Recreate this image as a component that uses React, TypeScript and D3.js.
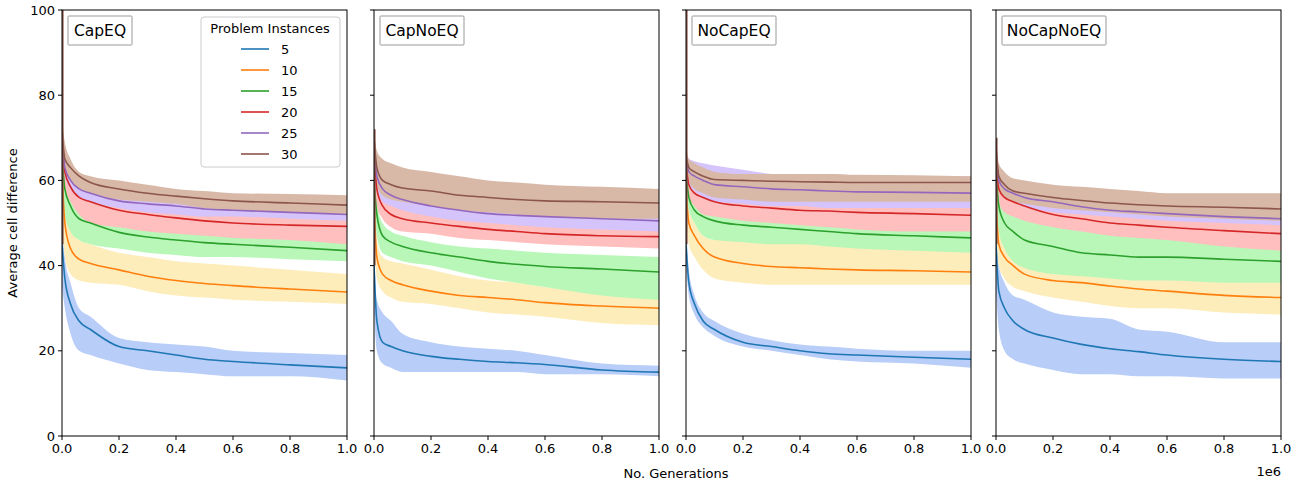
import { scaleLinear, line as d3line, area as d3area, curveMonotoneX } from "d3";

const gens = [0, 0.01, 0.03, 0.06, 0.1, 0.2, 0.3, 0.4, 0.5, 0.6, 0.8, 1.0];
const instances = ["5", "10", "15", "20", "25", "30"];
const panelNames = ["CapEQ", "CapNoEQ", "NoCapEQ", "NoCapNoEQ"];
const xTicks = [0, 0.2, 0.4, 0.6, 0.8, 1.0];
const yTicks = [0, 20, 40, 60, 80, 100];

const lineColors = ["#1f77b4", "#ff7f0e", "#2ca02c", "#d62728", "#9467bd", "#8c564b"];
const bandColors = ["#b8cdf8", "#fdedbb", "#b9f7b9", "#ffbfbf", "#d4c4fb", "#d8b9a8"];

// mean / lower / upper per panel, per instance size
const capEqMean = [
	[45, 37, 31, 27, 25, 21, 20, 19, 18, 17.5, 16.7, 16],
	[62, 50, 44, 41.5, 40.5, 39, 37.5, 36.5, 35.8, 35.3, 34.5, 33.8],
	[66, 58, 54, 51, 50, 47.8, 46.7, 46, 45.4, 45, 44.3, 43.5],
	[68, 62, 58.5, 56, 55, 53, 52, 51.2, 50.5, 50, 49.5, 49.2],
	[70, 63, 60, 58, 57, 55.2, 54.5, 54, 53.3, 53, 52.5, 52],
	[72, 65, 63, 61, 59.5, 58, 57, 56.3, 55.7, 55.2, 54.7, 54.2],
];
const capEqLo = [
	[35, 30, 24, 20, 19, 17, 15.5, 15, 14.5, 14, 14, 13],
	[50, 42, 38, 36.5, 36, 35.5, 34, 33, 32.5, 32, 31.5, 31],
	[58, 52, 48, 46, 45, 44, 43, 42.5, 42, 42, 41.5, 41],
	[62, 58, 55, 52, 50, 49, 48, 47.5, 47, 46.5, 46, 45],
	[65, 61, 58, 56, 55, 53.5, 52.5, 52, 51.5, 51.5, 51, 50.5],
	[67, 62, 60, 58, 57, 55.5, 55, 54.5, 53.5, 53, 52.5, 52],
];
const capEqHi = [
	[50, 42, 36, 30, 28, 23, 22, 21.5, 21, 20, 19.5, 19],
	[66, 55, 49, 46, 45, 43, 42, 41, 40.5, 40, 39, 38],
	[68, 62, 57, 54, 53, 51, 50, 49, 48.5, 48, 47.5, 47],
	[70, 65, 61, 58, 57, 55, 54, 53.5, 53, 52.5, 52, 51.5],
	[72, 67, 63, 60, 59, 57, 56, 55.5, 55, 54.5, 54, 54],
	[75, 69, 65, 62, 61, 60, 59, 58, 57.5, 57, 56.8, 56.5],
];

const capNoEqMean = [
	[40, 27, 22, 21, 20, 18.7, 18, 17.5, 17.2, 16.8, 15.5, 15],
	[55, 42, 38, 36.5, 35.5, 34, 33, 32.5, 32, 31.3, 30.5, 30],
	[60, 52, 47, 45.5, 44.5, 43, 42, 41, 40.3, 39.8, 39.2, 38.5],
	[66, 58, 54, 52, 51, 50, 49.2, 48.5, 48, 47.5, 47, 46.8],
	[68, 61, 58, 56.5, 55.5, 54, 53, 52.2, 51.8, 51.5, 51, 50.5],
	[70, 63, 60, 59, 58.2, 57.5, 56.5, 56, 55.5, 55.2, 55, 54.7],
];
const capNoEqLo = [
	[30, 20, 17, 16, 15, 15, 15, 15, 15, 14.5, 14.5, 14],
	[48, 37, 34, 32.5, 31.5, 31, 30, 29, 28.5, 28, 26.5, 26],
	[55, 47, 43, 42, 41, 40, 38.5, 37, 36, 35, 33, 32],
	[62, 54, 51, 49, 48, 47.5, 46.5, 46, 45.5, 45, 44.5, 44],
	[65, 58, 55, 54, 53, 51.5, 50.5, 50, 49.5, 49, 48.5, 48],
	[66, 59, 56.5, 55.5, 55, 54, 53, 52.5, 52, 51.5, 51, 51],
];
const capNoEqHi = [
	[45, 32, 29, 27, 24, 22, 21, 20.5, 20, 19, 17, 16.5],
	[58, 46, 42, 41, 40.5, 39, 37.5, 36.5, 36, 35, 34, 33],
	[64, 55, 50, 48, 47, 45.5, 44.5, 44, 43.5, 43, 42.5, 42],
	[69, 62, 57, 55, 54, 53, 52, 51.5, 51, 50.5, 50, 49.5],
	[70, 63, 61, 60, 59, 58, 57, 56, 55.5, 55, 54.5, 54],
	[72, 67, 65, 64, 63, 62, 61, 60, 59.5, 59, 58.5, 58],
];

const noCapEqMean = [
	[45, 36, 31, 27, 25, 22, 21, 20, 19.3, 19, 18.5, 18],
	[58, 50, 47, 44, 42, 40.5, 39.8, 39.5, 39.2, 39, 38.8, 38.5],
	[62, 56, 53, 51.5, 50.5, 49.5, 49, 48.5, 48, 47.5, 47, 46.5],
	[64, 59, 57, 56, 55, 54, 53.5, 53, 52.8, 52.5, 52.2, 51.8],
	[65, 62, 61, 60, 59, 58.5, 58, 57.8, 57.5, 57.3, 57.2, 57],
	[66, 63, 62, 61, 60.2, 60, 59.8, 59.7, 59.6, 59.5, 59.5, 59.5],
];
const noCapEqLo = [
	[40, 33, 28.5, 25.5, 23.5, 21, 20, 19, 18, 17.5, 17, 16],
	[52, 45, 42, 39, 37, 36, 35.5, 35.5, 35.5, 35.5, 35.5, 35.5],
	[58, 53, 50, 47, 46, 45.5, 45, 45, 44.5, 44, 43.5, 43],
	[61, 56, 54, 52, 51.5, 50.5, 50, 49.5, 49, 48.5, 48, 48],
	[62, 59, 57.5, 56, 55, 54.5, 54, 54, 53.5, 53.5, 53.5, 53.5],
	[63, 60, 58, 57, 56, 55.5, 55, 55, 55, 55, 55, 55],
];
const noCapEqHi = [
	[50, 39, 33, 29, 27, 24, 22.5, 21.5, 21, 20.5, 20, 20],
	[62, 53, 50, 47, 46, 46, 46, 45.5, 45, 44.5, 44, 43.5],
	[64, 59, 55, 53, 52.5, 52, 51.5, 51, 51, 50.5, 50.5, 50],
	[66, 61, 59, 58, 58, 57.5, 57, 56, 55.5, 55, 55, 55],
	[68, 65, 64.5, 64, 63.5, 62.5, 61.5, 61, 61, 61, 61, 61],
	[68, 65, 64, 63, 62, 61.5, 61.5, 61.5, 61.5, 61.3, 61.2, 61],
];

const noCapNoEqMean = [
	[45, 34, 30, 27, 25, 23, 21.5, 20.5, 19.8, 19, 18, 17.5],
	[55, 45, 42, 40, 38, 36.5, 36, 35.2, 34.5, 34, 33, 32.5],
	[62, 54, 50, 48, 46, 44.5, 43, 42.5, 42, 42, 41.5, 41],
	[64, 58, 56, 55, 54, 52, 51, 50, 49.5, 49, 48.2, 47.5],
	[66, 60, 58, 57, 56, 55, 53.8, 53, 52.6, 52.2, 51.5, 51],
	[68, 61, 59, 57.5, 57, 56, 55.3, 54.7, 54.3, 54, 53.7, 53.3],
];
const noCapNoEqLo = [
	[35, 25, 20, 18, 17, 15.5, 14.5, 14.5, 14, 14, 13.5, 13.5],
	[48, 40, 37, 35, 34, 32.5, 31.5, 30.5, 30, 30, 29, 28.5],
	[56, 48, 44, 41, 39.5, 38, 37.5, 37, 36.5, 36.5, 36, 36],
	[61, 55, 52.5, 51.5, 50.5, 49, 48, 47, 46.5, 46, 44.5, 43.5],
	[63, 58, 56, 55, 54, 52.5, 52, 51.5, 51, 50.5, 50, 49.5],
	[64, 58, 56, 55, 54.5, 53.5, 53, 52.5, 52, 51.5, 51, 50.5],
];
const noCapNoEqHi = [
	[55, 40, 36, 33, 32, 29, 28, 27.5, 25, 24.5, 22, 22],
	[60, 50, 47, 45, 44, 42, 40.5, 40, 39.5, 39, 38, 37],
	[66, 58, 55, 53, 52, 50, 48.5, 47.5, 47, 46.5, 46, 45.5],
	[66, 60, 58, 57.5, 57, 55.5, 54, 53, 52.5, 52, 51.5, 51],
	[68, 62, 60, 59, 58.5, 57, 56, 55.5, 55, 54.5, 54, 53.5],
	[70, 64, 62, 60.5, 60, 59, 58.5, 58, 57.5, 57, 57, 57],
];

const means = [capEqMean, capNoEqMean, noCapEqMean, noCapNoEqMean];
const lows = [capEqLo, capNoEqLo, noCapEqLo, noCapNoEqLo];
const highs = [capEqHi, capNoEqHi, noCapEqHi, noCapNoEqHi];
const startPeak = [100, 72, 100, 70];

const W = 1295;
const H = 482;
const top = 10;
const bottom = 436;
const panelLeft = [62, 374, 686, 996];
const panelW = 285;
const font = "DejaVu Sans, sans-serif";

function Panel({ p }: { p: number }) {
	const x = scaleLinear().domain([0, 1]).range([panelLeft[p], panelLeft[p] + panelW]);
	const y = scaleLinear().domain([0, 100]).range([bottom, top]);
	const ln = d3line<number>()
		.x((_, i) => x(gens[i]))
		.y((d) => y(d))
		.curve(curveMonotoneX);
	const band = (lo: number[], hi: number[]) =>
		d3area<number>()
			.x((_, i) => x(gens[i]))
			.y0((d) => y(d))
			.y1((_, i) => y(hi[i]))
			.curve(curveMonotoneX)(lo) ?? undefined;
	const x0 = x(0);
	const title = panelNames[p];
	const tw = title.length * 10 + 14;
	return (
		<g>
			<clipPath id={`clip-${p}`}>
				<rect x={x(0)} y={top} width={panelW} height={bottom - top} />
			</clipPath>
			<g clipPath={`url(#clip-${p})`}>
				{instances.map((_, s) => (
					<path key={`b${s}`} d={band(lows[p][s], highs[p][s])} fill={bandColors[s]} />
				))}
				{instances.map((_, s) => (
					<path key={`l${s}`} d={ln(means[p][s]) ?? undefined} fill="none" stroke={lineColors[s]} strokeWidth={1.6} />
				))}
				<line x1={x0 + 0.8} x2={x0 + 0.8} y1={y(means[p][0][0])} y2={y(startPeak[p])} stroke={lineColors[5]} strokeWidth={1.6} />
			</g>
			<rect x={x(0)} y={top} width={panelW} height={bottom - top} fill="none" stroke="#000" strokeWidth={1} />
			{xTicks.map((t) => (
				<g key={t}>
					<line x1={x(t)} x2={x(t)} y1={bottom} y2={bottom + 4} stroke="#000" />
					<text x={x(t)} y={bottom + 17} textAnchor="middle" fontSize={13} fontFamily={font}>
						{t.toFixed(1)}
					</text>
				</g>
			))}
			{yTicks.map((t) => (
				<g key={t}>
					<line x1={x0 - 4} x2={x0} y1={y(t)} y2={y(t)} stroke="#000" />
					{p === 0 && (
						<text x={x0 - 7} y={y(t) + 4.5} textAnchor="end" fontSize={13} fontFamily={font}>
							{t}
						</text>
					)}
				</g>
			))}
			<rect x={x0 + 6} y={top + 6} width={tw} height={29} fill="#fff" stroke="#999" rx={1} />
			<text x={x0 + 6 + tw / 2} y={top + 26} textAnchor="middle" fontSize={15.5} fontFamily={font}>
				{title}
			</text>
		</g>
	);
}

export default function App() {
	return (
		<svg width={W} height={H} style={{ position: "absolute", left: 0, top: 0, background: "#fff" }}>
			{panelNames.map((_, p) => (
				<Panel key={p} p={p} />
			))}
			{/* legend */}
			<g fontFamily={font}>
				<rect x={201} y={17} width={139} height={150} fill="#fff" stroke="#ccc" rx={3} />
				<text x={270} y={33} textAnchor="middle" fontSize={13}>
					Problem Instances
				</text>
				{instances.map((n, s) => (
					<g key={n}>
						<line x1={241} x2={269} y1={49 + s * 21} y2={49 + s * 21} stroke={lineColors[s]} strokeWidth={1.6} />
						<text x={281} y={54 + s * 21} fontSize={13}>
							{n}
						</text>
					</g>
				))}
			</g>
			<text x={676} y={478} textAnchor="middle" fontSize={13} fontFamily={font}>
				No. Generations
			</text>
			<text x={1281} y={476} textAnchor="end" fontSize={13} fontFamily={font}>
				1e6
			</text>
			<text transform="translate(17,223) rotate(-90)" textAnchor="middle" fontSize={13} fontFamily={font}>
				Average cell difference
			</text>
		</svg>
	);
}
